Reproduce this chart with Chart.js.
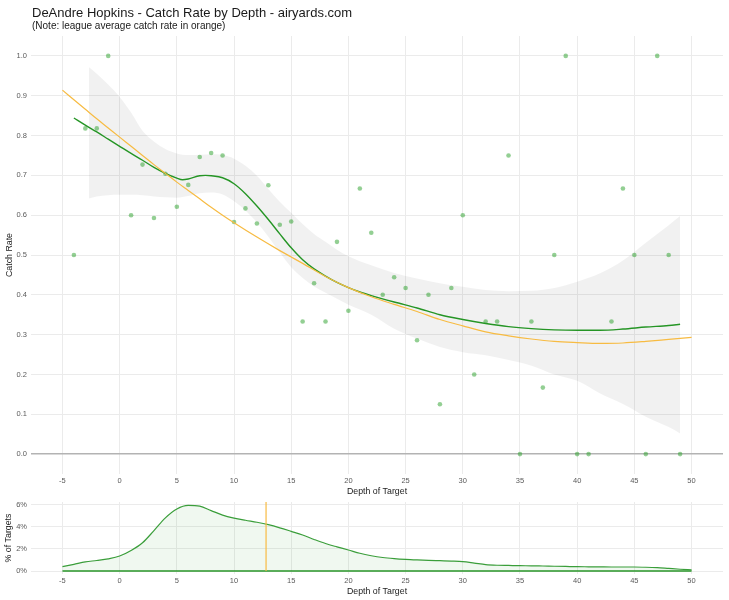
<!DOCTYPE html>
<html>
<head>
<meta charset="utf-8">
<script src="https://cdn.jsdelivr.net/npm/chart.js@4.4.1/dist/chart.umd.min.js"></script>
<style>
html,body{margin:0;padding:0;background:#fff;}
#wrap{position:relative;width:729px;height:600px;overflow:hidden;font-family:"Liberation Sans",Arial,sans-serif;background:#fff;}
#t1{position:absolute;left:32px;top:6px;font-size:13px;line-height:1;color:#1a1a1a;white-space:nowrap;}
#t2{position:absolute;left:32px;top:21px;font-size:10px;line-height:1;color:#1a1a1a;white-space:nowrap;}
#c1{position:absolute;left:0;top:0;}
#c2{position:absolute;left:0;top:490px;}
</style>
</head>
<body>
<div id="wrap">
  <canvas id="c1" width="729" height="500"></canvas>
  <canvas id="c2" width="729" height="110"></canvas>
  <div id="t1">DeAndre Hopkins - Catch Rate by Depth - airyards.com</div>
  <div id="t2">(Note: league average catch rate in orange)</div>
</div>
<script>
// ---------- data ----------
const depth = [-4,-3,-2,-1,1,2,3,4,5,6,7,8,9,10,11,12,13,14,15,16,17,18,19,20,21,22,23,24,25,26,27,28,29,30,31,32,33,34,35,36,37,38,39,40,41,43,44,45,46,47,48,49];
const catchRate = [0.5,0.818,0.818,1.0,0.6,0.727,0.593,0.704,0.621,0.676,0.746,0.756,0.75,0.583,0.617,0.579,0.675,0.576,0.584,0.333,0.429,0.333,0.533,0.36,0.667,0.556,0.4,0.444,0.417,0.286,0.4,0.125,0.417,0.6,0.2,0.333,0.333,0.75,0,0.333,0.167,0.5,1.0,0,0,0.333,0.667,0.5,0,1.0,0.5,0];

const smoothX = [-4,-3,-2,-1,0,1,2,3,4,5,5.5,6,7,7.5,8,9,10,11,12,13,14,15,16,17,18,19,20,21,22,24,26,28,30,32,34,36,38,40,42,44,46,48,49];
const smoothY = [0.844,0.826,0.809,0.791,0.773,0.755,0.738,0.72,0.705,0.693,0.689,0.691,0.699,0.70,0.699,0.694,0.679,0.654,0.623,0.589,0.553,0.518,0.488,0.465,0.447,0.431,0.418,0.407,0.398,0.382,0.367,0.35,0.338,0.328,0.32,0.315,0.312,0.311,0.311,0.314,0.319,0.323,0.326];

const bandX = [-2.7,-2,-1,0,1,2,3,4,5,6,7,8,9,10,11,12,13,14,15,16,17,18,19,20,22,24,26,28,30,32,34,36,38,40,42,44,46,48,49];
const bandHi = [0.972,0.955,0.928,0.897,0.858,0.812,0.785,0.766,0.755,0.751,0.752,0.753,0.751,0.742,0.724,0.699,0.666,0.634,0.606,0.578,0.553,0.533,0.513,0.497,0.474,0.455,0.441,0.429,0.42,0.412,0.409,0.41,0.417,0.433,0.454,0.486,0.531,0.575,0.598];
const bandLo = [0.642,0.647,0.65,0.651,0.651,0.65,0.647,0.645,0.644,0.648,0.655,0.657,0.652,0.635,0.612,0.582,0.546,0.506,0.469,0.442,0.421,0.405,0.39,0.375,0.35,0.315,0.29,0.269,0.256,0.248,0.236,0.222,0.2,0.184,0.152,0.126,0.094,0.068,0.052];

const leagueX = [-5,-4,-3,-2,-1,0,1,2,3,4,5,6,7,8,9,10,12,14,15,16,18,20,22,24,26,28,30,32,34,36,38,40,42,44,46,48,50];
const leagueY = [0.914,0.89,0.866,0.842,0.819,0.796,0.773,0.75,0.727,0.705,0.683,0.662,0.641,0.62,0.6,0.581,0.545,0.511,0.495,0.479,0.446,0.418,0.395,0.376,0.358,0.338,0.322,0.307,0.297,0.289,0.283,0.28,0.278,0.279,0.283,0.288,0.293];

const densX = [-5,-4,-3,-2,-1,0,1,2,3,4,5,6,7,8,9,10,11,12,13,14,15,16,17,18,19,20,21,22,23,24,25,26,27,28,29,30,31,32,33,34,35,36,37,38,39,40,41,42,43,44,45,46,47,48,49,50];
const densPct = [0.39,0.6,0.82,0.95,1.1,1.35,1.85,2.55,3.65,4.8,5.6,5.92,5.85,5.45,5.05,4.78,4.58,4.4,4.18,3.9,3.58,3.25,2.85,2.48,2.18,1.9,1.6,1.38,1.22,1.12,1.05,1.0,0.96,0.93,0.9,0.85,0.72,0.58,0.52,0.5,0.48,0.47,0.45,0.43,0.41,0.39,0.38,0.37,0.36,0.36,0.36,0.34,0.3,0.23,0.16,0.1];
const avgDepth = 12.8;

const xTicks = [-5,0,5,10,15,20,25,30,35,40,45,50];
const yTicks = [0,0.1,0.2,0.3,0.4,0.5,0.6,0.7,0.8,0.9,1.0];
const densTicks = [0,2,4,6];

// ---------- style ----------
const FONT = "'Liberation Sans', Arial, sans-serif";
const GREEN = '#259525';
const ORANGE = '#f7bb42';
const GRID = '#ebebeb';
const TICKC = '#5a5a5a';
const TITLEC = '#222';

const pts = (xs, ys) => xs.map((x, i) => ({x, y: ys[i]}));

function xScale(tickPad) {
  return {
    type: 'linear', min: -7.75, max: 52.75,
    afterBuildTicks: s => { s.ticks = xTicks.map(v => ({value: v})); },
    afterFit: s => { s.height = 26; },
    grid: {color: GRID, lineWidth: 1, drawTicks: false},
    border: {display: false},
    ticks: {color: TICKC, font: {family: FONT, size: 7.5}, padding: tickPad, maxRotation: 0},
    title: {display: true, text: 'Depth of Target', color: TITLEC, font: {family: FONT, size: 8.8}, padding: {top: 0, bottom: 3}}
  };
}

// ---------- main chart ----------
new Chart(document.getElementById('c1'), {
  type: 'scatter',
  data: {
    datasets: [
      {data: pts(leagueX, leagueY), showLine: true, borderColor: ORANGE, borderWidth: 1.2, pointRadius: 0, cubicInterpolationMode: 'monotone', fill: false},
      {data: pts(smoothX, smoothY), showLine: true, borderColor: GREEN, borderWidth: 1.4, pointRadius: 0, cubicInterpolationMode: 'monotone', fill: false},
      {data: pts(depth, catchRate), showLine: false, pointRadius: 2.3, pointBorderWidth: 0, backgroundColor: 'rgba(40,160,40,0.5)', borderColor: 'rgba(0,0,0,0)'},
      {data: pts(bandX, bandHi), showLine: true, borderWidth: 0, borderColor: 'rgba(0,0,0,0)', pointRadius: 0, cubicInterpolationMode: 'monotone', fill: '+1', backgroundColor: 'rgba(0,0,0,0.055)'},
      {data: pts(bandX, bandLo), showLine: true, borderWidth: 0, borderColor: 'rgba(0,0,0,0)', pointRadius: 0, cubicInterpolationMode: 'monotone', fill: false}
    ]
  },
  options: {
    responsive: false, animation: false, devicePixelRatio: 1,
    layout: {padding: {top: 36, right: 6, left: 0, bottom: 0}},
    plugins: {legend: {display: false}, tooltip: {enabled: false}},
    scales: {
      x: xScale(2),
      y: {
        type: 'linear', min: -0.05, max: 1.05,
        afterBuildTicks: s => { s.ticks = yTicks.map(v => ({value: v})); },
        afterFit: s => { s.width = 31; },
        grid: {
          color: c => (c.tick && c.tick.value === 0) ? '#b3b3b3' : GRID,
          lineWidth: c => (c.tick && c.tick.value === 0) ? 1.6 : 1,
          drawTicks: false
        },
        border: {display: false},
        ticks: {color: TICKC, font: {family: FONT, size: 7.5}, padding: 4, callback: v => v.toFixed(1)},
        title: {display: true, text: 'Catch Rate', color: TITLEC, font: {family: FONT, size: 8.8}, padding: {top: 4, bottom: 0}}
      }
    }
  }
});

// ---------- density chart ----------
const vline = {
  id: 'vline',
  afterDatasetsDraw(chart) {
    const {ctx, chartArea} = chart;
    const x = chart.scales.x.getPixelForValue(avgDepth);
    const y0 = chart.scales.y.getPixelForValue(0);
    ctx.save();
    ctx.strokeStyle = ORANGE; ctx.lineWidth = 1.2;
    ctx.beginPath(); ctx.moveTo(x, chartArea.top); ctx.lineTo(x, y0); ctx.stroke();
    ctx.restore();
  }
};

new Chart(document.getElementById('c2'), {
  type: 'scatter',
  data: {
    datasets: [
      {data: pts(densX, densPct), showLine: true, borderColor: '#3a9e3a', borderWidth: 1.2, pointRadius: 0, cubicInterpolationMode: 'monotone', fill: 'origin', backgroundColor: 'rgba(0,139,0,0.06)'},
      {data: [{x: densX[0], y: 0}, {x: densX[densX.length - 1], y: 0}], showLine: true, borderColor: '#2a962a', borderWidth: 1.6, pointRadius: 0, fill: false}
    ]
  },
  options: {
    responsive: false, animation: false, devicePixelRatio: 1,
    layout: {padding: {top: 12, right: 6, left: 0, bottom: 0}},
    plugins: {legend: {display: false}, tooltip: {enabled: false}},
    scales: {
      x: xScale(2.5),
      y: {
        type: 'linear', min: -0.27, max: 6.23,
        afterBuildTicks: s => { s.ticks = densTicks.map(v => ({value: v})); },
        afterFit: s => { s.width = 31; },
        grid: {color: GRID, lineWidth: 1, drawTicks: false},
        border: {display: false},
        ticks: {color: TICKC, font: {family: FONT, size: 7.5}, padding: 4, callback: v => v + '%'},
        title: {display: true, text: '% of Targets', color: TITLEC, font: {family: FONT, size: 8.8}, padding: {top: 3, bottom: 0}}
      }
    }
  },
  plugins: [vline]
});
</script>
</body>
</html>
